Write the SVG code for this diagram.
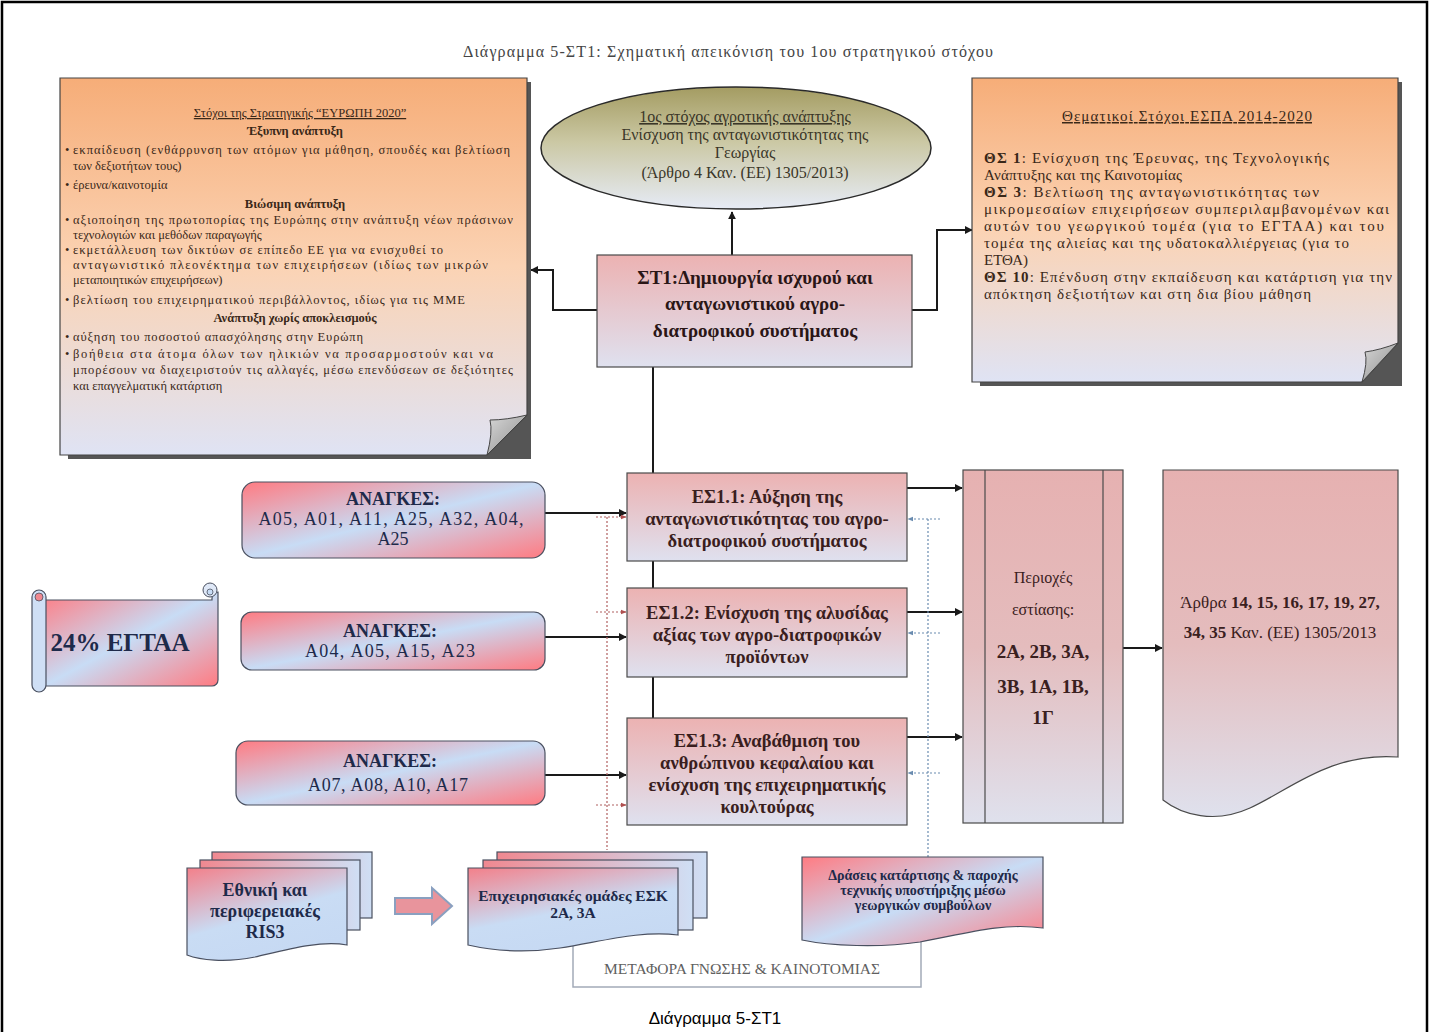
<svg xmlns="http://www.w3.org/2000/svg" width="1430" height="1032" viewBox="0 0 1430 1032">
<defs>
<linearGradient id="gNote" x1="0" y1="0" x2="0" y2="1">
<stop offset="0" stop-color="#f6ad78"/><stop offset="0.5" stop-color="#fbd3b4"/><stop offset="1" stop-color="#dfe3f4"/>
</linearGradient>
<linearGradient id="gPink" x1="0" y1="0" x2="0" y2="1">
<stop offset="0" stop-color="#ecb2b2"/><stop offset="1" stop-color="#dfe1ef"/>
</linearGradient>
<linearGradient id="gCol" x1="0" y1="0" x2="0" y2="1">
<stop offset="0" stop-color="#e6b1b1"/><stop offset="0.5" stop-color="#e4bcbd"/><stop offset="1" stop-color="#dfe1ed"/>
</linearGradient>
<linearGradient id="gEll" x1="0" y1="0" x2="0" y2="1">
<stop offset="0" stop-color="#a49c62"/><stop offset="0.45" stop-color="#cbc8a4"/><stop offset="1" stop-color="#e6ebf6"/>
</linearGradient>
<linearGradient id="gNeed" x1="0" y1="0" x2="1" y2="1">
<stop offset="0" stop-color="#ff7b82"/><stop offset="0.5" stop-color="#c8dcf5"/><stop offset="1" stop-color="#ff7b82"/>
</linearGradient>
<linearGradient id="gDoc" x1="0" y1="0" x2="0.5" y2="1">
<stop offset="0" stop-color="#f3808a"/><stop offset="0.6" stop-color="#c9dcf4"/><stop offset="1" stop-color="#c6d9f3"/>
</linearGradient>
<linearGradient id="gBack" x1="0" y1="0" x2="1" y2="0">
<stop offset="0" stop-color="#f08890"/><stop offset="1" stop-color="#cfdff5"/>
</linearGradient>
<linearGradient id="gFold" x1="0" y1="0" x2="1" y2="1">
<stop offset="0" stop-color="#d8d8d8"/><stop offset="1" stop-color="#8c8c8c"/>
</linearGradient>
<marker id="ah" viewBox="0 0 10 10" refX="9" refY="5" markerWidth="4" markerHeight="4" orient="auto-start-reverse">
<path d="M0,0 L10,5 L0,10 Z" fill="#1a1a1a"/>
</marker>
<marker id="ahR" viewBox="0 0 10 10" refX="9" refY="5" markerWidth="5" markerHeight="5" orient="auto">
<path d="M0,1 L10,5 L0,9 Z" fill="#b05050"/>
</marker>
<marker id="ahB" viewBox="0 0 10 10" refX="9" refY="5" markerWidth="5" markerHeight="5" orient="auto">
<path d="M0,1 L10,5 L0,9 Z" fill="#6a8cb0"/>
</marker>
<style>
.t{font-family:"Liberation Serif","Times New Roman",serif;}
.note{font-family:"Liberation Serif","Times New Roman",serif;font-size:12.5px;fill:#3a2818;}
.rnote{font-family:"Liberation Serif","Times New Roman",serif;font-size:15px;fill:#3a2818;}
.b{font-weight:bold;}
.box{stroke:#4a4a4a;stroke-width:1.2;}
.conn{stroke:#1a1a1a;stroke-width:2;fill:none;}
.dotR{stroke:#b06060;stroke-width:1.2;stroke-dasharray:2,2;fill:none;}
.dotB{stroke:#6a8cb0;stroke-width:1.2;stroke-dasharray:2,2;fill:none;}
.es{font-family:"Liberation Serif","Times New Roman",serif;font-size:18.5px;font-weight:bold;fill:#3a1e1e;text-anchor:middle;}
.need{font-family:"Liberation Serif","Times New Roman",serif;font-size:18px;fill:#1e2a4a;text-anchor:middle;}
.lo{font-family:"Liberation Serif","Times New Roman",serif;font-weight:bold;fill:#1e2a4a;text-anchor:middle;}
</style>
</defs>
<rect x="0" y="0" width="1430" height="1032" fill="#ffffff"/>
<path d="M2,1040 V2 H1427 V1040" fill="none" stroke="#000" stroke-width="2.5"/>

<text x="728" y="57" class="t" font-size="16" fill="#444" text-anchor="middle" textLength="530">Διάγραμμα 5-ΣΤ1: Σχηματική απεικόνιση του 1ου στρατηγικού στόχου</text>

<g id="connectors">
<line x1="653" y1="367" x2="653" y2="718" class="conn"/>
<path d="M732,255 V212" class="conn" marker-end="url(#ah)"/>
<path d="M597,310 H553 V270 H531" class="conn" marker-end="url(#ah)"/>
<path d="M912,310 H937 V230 H972" class="conn" marker-end="url(#ah)"/>
<path d="M545,513 H626" class="conn" marker-end="url(#ah)"/>
<path d="M545,637 H626" class="conn" marker-end="url(#ah)"/>
<path d="M545,775 H626" class="conn" marker-end="url(#ah)"/>
<path d="M907,488 H962" class="conn" marker-end="url(#ah)"/>
<path d="M907,612 H962" class="conn" marker-end="url(#ah)"/>
<path d="M907,737 H962" class="conn" marker-end="url(#ah)"/>
<path d="M1123,648 H1162" class="conn" marker-end="url(#ah)"/>
<path d="M607,517 V850" class="dotR"/>
<path d="M596,517 H626" class="dotR" marker-end="url(#ahR)"/>
<path d="M596,612 H626" class="dotR" marker-end="url(#ahR)"/>
<path d="M596,805 H626" class="dotR" marker-end="url(#ahR)"/>
<path d="M928,519 V857" class="dotB"/>
<path d="M940,519 H908" class="dotB" marker-end="url(#ahB)"/>
<path d="M940,633 H908" class="dotB" marker-end="url(#ahB)"/>
<path d="M940,773 H908" class="dotB" marker-end="url(#ahB)"/>
<path d="M573,945 V987 H921 V940" fill="none" stroke="#a3abb8" stroke-width="1.5"/>
</g>

<g id="note-europe2020">
<path d="M64,82 H531 V459 H68 Z" fill="#555"/>
<path d="M60,78 H527 V415 L487,455 H60 Z" fill="url(#gNote)" stroke="#444" stroke-width="1.2"/>
<path d="M487,455 Q493,432 490,420 Q506,420 527,415 Z" fill="url(#gFold)" stroke="#444" stroke-width="1"/>
<text x="300" y="117" class="note" text-anchor="middle" text-decoration="underline">Στόχοι της Στρατηγικής “ΕΥΡΩΠΗ 2020”</text>
<text x="295" y="135" class="note b" text-anchor="middle">Έξυπνη ανάπτυξη</text>
<text x="65" y="154" class="note">•</text><text x="73" y="154" class="note" textLength="437">εκπαίδευση (ενθάρρυνση των ατόμων για μάθηση, σπουδές και βελτίωση</text>
<text x="73" y="170" class="note">των δεξιοτήτων τους)</text>
<text x="65" y="189" class="note">•</text><text x="73" y="189" class="note">έρευνα/καινοτομία</text>
<text x="295" y="208" class="note b" text-anchor="middle">Βιώσιμη ανάπτυξη</text>
<text x="65" y="224" class="note">•</text><text x="73" y="224" class="note" textLength="440">αξιοποίηση της πρωτοπορίας της Ευρώπης στην ανάπτυξη νέων πράσινων</text>
<text x="73" y="239" class="note">τεχνολογιών και μεθόδων παραγωγής</text>
<text x="65" y="254" class="note">•</text><text x="73" y="254" class="note" textLength="370">εκμετάλλευση των δικτύων σε επίπεδο ΕΕ για να ενισχυθεί το</text>
<text x="73" y="269" class="note" textLength="415">ανταγωνιστικό πλεονέκτημα των επιχειρήσεων (ιδίως των μικρών</text>
<text x="73" y="284" class="note">μεταποιητικών επιχειρήσεων)</text>
<text x="65" y="304" class="note">•</text><text x="73" y="304" class="note" textLength="392">βελτίωση του επιχειρηματικού περιβάλλοντος, ιδίως για τις ΜΜΕ</text>
<text x="295" y="322" class="note b" text-anchor="middle">Ανάπτυξη χωρίς αποκλεισμούς</text>
<text x="65" y="341" class="note">•</text><text x="73" y="341" class="note" textLength="290">αύξηση του ποσοστού απασχόλησης στην Ευρώπη</text>
<text x="65" y="358" class="note">•</text><text x="73" y="358" class="note" textLength="420">βοήθεια στα άτομα όλων των ηλικιών να προσαρμοστούν και να</text>
<text x="73" y="374" class="note" textLength="440">μπορέσουν να διαχειριστούν τις αλλαγές, μέσω επενδύσεων σε δεξιότητες</text>
<text x="73" y="390" class="note">και επαγγελματική κατάρτιση</text>
</g>

<g id="goal-ellipse">
<ellipse cx="736" cy="148" rx="195" ry="61" fill="url(#gEll)" stroke="#2a2a2a" stroke-width="1.5"/>
<text x="745" y="122" class="t" font-size="16" fill="#3a3628" text-anchor="middle" text-decoration="underline">1ος στόχος αγροτικής ανάπτυξης</text>
<text x="745" y="140" class="t" font-size="16" fill="#3a3628" text-anchor="middle">Ενίσχυση της ανταγωνιστικότητας της</text>
<text x="745" y="158" class="t" font-size="16" fill="#3a3628" text-anchor="middle">Γεωργίας</text>
<text x="745" y="178" class="t" font-size="16" fill="#3a3628" text-anchor="middle">(Άρθρο 4 Καν. (ΕΕ) 1305/2013)</text>
</g>

<g id="st1">
<rect x="597" y="255" width="315" height="112" fill="url(#gPink)" class="box"/>
<text x="755" y="284" class="t b" font-size="19" fill="#2a1616" text-anchor="middle">ΣΤ1:Δημιουργία ισχυρού και</text>
<text x="755" y="310" class="t b" font-size="19" fill="#2a1616" text-anchor="middle">ανταγωνιστικού αγρο-</text>
<text x="755" y="337" class="t b" font-size="19" fill="#2a1616" text-anchor="middle">διατροφικού συστήματος</text>
</g>

<g id="note-espa">
<path d="M976,82 H1402 V386 H980 Z" fill="#555"/>
<path d="M972,78 H1398 V343 L1362,382 H972 Z" fill="url(#gNote)" stroke="#444" stroke-width="1.2"/>
<path d="M1362,382 Q1368,362 1365,352 Q1380,350 1398,343 Z" fill="url(#gFold)" stroke="#444" stroke-width="1"/>
<text x="1187" y="121" class="rnote" text-anchor="middle" text-decoration="underline" textLength="250">Θεματικοί Στόχοι ΕΣΠΑ 2014-2020</text>
<text x="984" y="163" class="rnote" textLength="345"><tspan class="b">ΘΣ 1</tspan>: Ενίσχυση της Έρευνας, της Τεχνολογικής</text>
<text x="984" y="180" class="rnote" textLength="198">Ανάπτυξης και της Καινοτομίας</text>
<text x="984" y="197" class="rnote" textLength="335"><tspan class="b">ΘΣ 3</tspan>: Βελτίωση της ανταγωνιστικότητας των</text>
<text x="984" y="214" class="rnote" textLength="405">μικρομεσαίων επιχειρήσεων συμπεριλαμβανομένων και</text>
<text x="984" y="231" class="rnote" textLength="400">αυτών του γεωργικού τομέα (για το ΕΓΤΑΑ) και του</text>
<text x="984" y="248" class="rnote" textLength="365">τομέα της αλιείας και της υδατοκαλλιέργειας (για το</text>
<text x="984" y="265" class="rnote">ΕΤΘΑ)</text>
<text x="984" y="282" class="rnote" textLength="408"><tspan class="b">ΘΣ 10</tspan>: Επένδυση στην εκπαίδευση και κατάρτιση για την</text>
<text x="984" y="299" class="rnote" textLength="327">απόκτηση δεξιοτήτων και στη δια βίου μάθηση</text>
</g>

<g id="need1">
<rect x="242" y="482" width="303" height="76" rx="13" fill="url(#gNeed)" stroke="#4a5060" stroke-width="1.2"/>
<text x="393" y="505" class="need b" font-size="19">ΑΝΑΓΚΕΣ:</text>
<text x="391" y="525" class="need" textLength="265">Α05, Α01, Α11, Α25, Α32, Α04,</text>
<text x="393" y="545" class="need">Α25</text>
</g>
<g id="need2">
<rect x="241" y="612" width="304" height="58" rx="11" fill="url(#gNeed)" stroke="#4a5060" stroke-width="1.2"/>
<text x="390" y="637" class="need b" font-size="19">ΑΝΑΓΚΕΣ:</text>
<text x="390" y="657" class="need" textLength="170">Α04, Α05, Α15, Α23</text>
</g>
<g id="need3">
<rect x="236" y="741" width="309" height="64" rx="12" fill="url(#gNeed)" stroke="#4a5060" stroke-width="1.2"/>
<text x="390" y="767" class="need b" font-size="19">ΑΝΑΓΚΕΣ:</text>
<text x="388" y="791" class="need" textLength="160">Α07, Α08, Α10, Α17</text>
</g>

<g id="eafrd-scroll">
<path d="M44,600 H212 V598 A6,6 0 0 1 218,592 V680 A6,6 0 0 1 212,686 H44 Z" fill="url(#gNeed)" stroke="#4a5060" stroke-width="1.2"/>
<circle cx="210" cy="590" r="7" fill="#dfe8f7" stroke="#4a5060" stroke-width="1"/>
<circle cx="210" cy="592" r="3" fill="#c8dcf5" stroke="#4a5060" stroke-width="0.8"/>
<rect x="32" y="590" width="14" height="102" rx="7" fill="#cfdff5" stroke="#4a5060" stroke-width="1.2"/>
<circle cx="39" cy="597" r="4" fill="#f08890" stroke="#4a5060" stroke-width="0.8"/>
<text x="120" y="651" class="t b" font-size="25" fill="#1e2a4a" text-anchor="middle">24% ΕΓΤΑΑ</text>
</g>

<g id="es11">
<rect x="627" y="473" width="280" height="88" fill="url(#gPink)" class="box"/>
<text x="767" y="503" class="es">ΕΣ1.1: Αύξηση της</text>
<text x="767" y="525" class="es">ανταγωνιστικότητας του αγρο-</text>
<text x="767" y="547" class="es">διατροφικού συστήματος</text>
</g>
<g id="es12">
<rect x="627" y="588" width="280" height="89" fill="url(#gPink)" class="box"/>
<text x="767" y="619" class="es">ΕΣ1.2: Ενίσχυση της αλυσίδας</text>
<text x="767" y="641" class="es">αξίας των αγρο-διατροφικών</text>
<text x="767" y="663" class="es">προϊόντων</text>
</g>
<g id="es13">
<rect x="627" y="718" width="280" height="107" fill="url(#gPink)" class="box"/>
<text x="767" y="747" class="es">ΕΣ1.3: Αναβάθμιση του</text>
<text x="767" y="769" class="es">ανθρώπινου κεφαλαίου και</text>
<text x="767" y="791" class="es">ενίσχυση της επιχειρηματικής</text>
<text x="767" y="813" class="es">κουλτούρας</text>
</g>

<g id="focus-areas">
<rect x="963" y="470" width="160" height="353" fill="url(#gCol)" class="box"/>
<line x1="985" y1="470" x2="985" y2="823" class="box"/>
<line x1="1103" y1="470" x2="1103" y2="823" class="box"/>
<text x="1043" y="583" class="t" font-size="16" fill="#3a2020" text-anchor="middle">Περιοχές</text>
<text x="1043" y="615" class="t" font-size="16" fill="#3a2020" text-anchor="middle">εστίασης:</text>
<text x="1043" y="658" class="t b" font-size="19" fill="#3a2020" text-anchor="middle">2Α, 2Β, 3Α,</text>
<text x="1043" y="693" class="t b" font-size="19" fill="#3a2020" text-anchor="middle">3Β,  1Α, 1Β,</text>
<text x="1043" y="724" class="t b" font-size="19" fill="#3a2020" text-anchor="middle">1Γ</text>
</g>

<g id="articles">
<path d="M1163,470 H1398 V757 C1330,752 1290,790 1250,808 C1215,824 1182,815 1163,800 Z" fill="url(#gCol)" class="box"/>
<text x="1280" y="608" class="t" font-size="17" fill="#3a2020" text-anchor="middle">Άρθρα <tspan class="b">14, 15, 16, 17, 19, 27,</tspan></text>
<text x="1280" y="638" class="t" font-size="17" fill="#3a2020" text-anchor="middle"><tspan class="b">34, 35</tspan> Καν. (ΕΕ) 1305/2013</text>
</g>

<g id="ris3">
<rect x="212" y="852" width="160" height="66" fill="url(#gBack)" stroke="#4a5060" stroke-width="1.2"/>
<rect x="200" y="860" width="160" height="70" fill="url(#gBack)" stroke="#4a5060" stroke-width="1.2"/>
<path d="M187,868 H347 V945 C320,940 285,950 255,957 C225,963 200,960 187,955 Z" fill="url(#gDoc)" stroke="#4a5060" stroke-width="1.2"/>
<text x="265" y="896" class="lo" font-size="18">Εθνική και</text>
<text x="265" y="917" class="lo" font-size="18">περιφερειακές</text>
<text x="265" y="938" class="lo" font-size="18">RIS3</text>
</g>

<g id="block-arrow">
<path d="M395,898 H432 V888 L452,906 L432,924 V914 H395 Z" fill="#e8949c" stroke="#8aa0c0" stroke-width="2"/>
</g>

<g id="eip-groups">
<rect x="497" y="852" width="210" height="66" fill="url(#gBack)" stroke="#4a5060" stroke-width="1.2"/>
<rect x="483" y="860" width="210" height="70" fill="url(#gBack)" stroke="#4a5060" stroke-width="1.2"/>
<path d="M468,868 H678 V935 C640,930 600,942 560,948 C520,954 490,950 468,945 Z" fill="url(#gDoc)" stroke="#4a5060" stroke-width="1.2"/>
<text x="573" y="901" class="lo" font-size="15.5">Επιχειρησιακές ομάδες ΕΣΚ</text>
<text x="573" y="918" class="lo" font-size="15.5">2Α, 3Α</text>
</g>

<g id="advisory">
<path d="M802,857 H1043 V928 C1000,922 960,935 920,942 C880,948 830,946 802,940 Z" fill="url(#gNeed)" stroke="#4a5060" stroke-width="1.2"/>
<text x="923" y="880" class="lo" font-size="14">Δράσεις κατάρτισης &amp; παροχής</text>
<text x="923" y="895" class="lo" font-size="14">τεχνικής υποστήριξης μέσω</text>
<text x="923" y="910" class="lo" font-size="14">γεωργικών συμβούλων</text>
</g>

<g id="knowledge-transfer">
<text x="742" y="974" class="t" font-size="15.5" fill="#606060" text-anchor="middle">ΜΕΤΑΦΟΡΑ ΓΝΩΣΗΣ &amp; ΚΑΙΝΟΤΟΜΙΑΣ</text>
</g>

<text x="715" y="1024" font-family="Liberation Sans, Arial, sans-serif" font-size="17" fill="#000" text-anchor="middle">Διάγραμμα 5-ΣΤ1</text>
</svg>
